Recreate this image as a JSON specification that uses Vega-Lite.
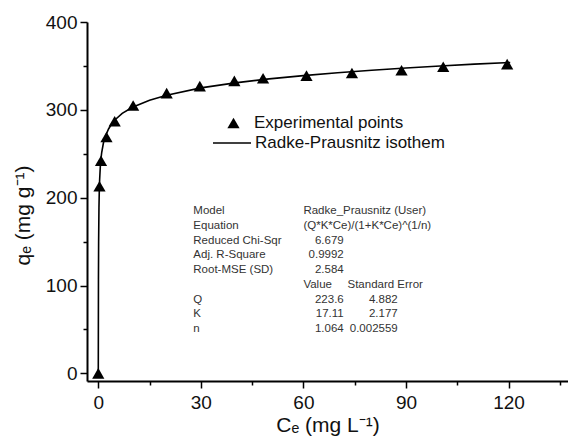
{
  "$schema": "https://vega.github.io/schema/vega-lite/v6.json",
  "width": 481,
  "height": 359,
  "autosize": {"type": "none"},
  "padding": {"left": 87, "top": 22, "right": 0, "bottom": 62},
  "background": "white",
  "config": {
    "view": {"stroke": null},
    "font": "Liberation Sans",
    "axis": {
      "grid": false,
      "domainColor": "black",
      "domainWidth": 2,
      "tickColor": "black",
      "tickWidth": 1.5,
      "labelFont": "Liberation Sans",
      "labelFontSize": 19,
      "labelColor": "#111",
      "labelOverlap": false,
      "titleFont": "Liberation Sans",
      "titleFontSize": 21,
      "titleFontWeight": "normal",
      "titleColor": "#111"
    },
    "legend": {
      "title": null,
      "orient": "none",
      "padding": 0,
      "clipHeight": 16,
      "labelFont": "Liberation Sans",
      "labelFontSize": 17,
      "labelColor": "#111",
      "labelLimit": 400
    }
  },
  "datasets": {
    "curve": [
      {"Ce": 0, "q": 0}, {"Ce": 0.05, "q": 107.0}, {"Ce": 0.1, "q": 149.8}, {"Ce": 0.2, "q": 189.2},
      {"Ce": 0.3, "q": 208.7}, {"Ce": 0.4, "q": 220.8}, {"Ce": 0.6, "q": 235.7}, {"Ce": 0.8, "q": 244.9},
      {"Ce": 1, "q": 251.4}, {"Ce": 1.5, "q": 262.2}, {"Ce": 2, "q": 269.1}, {"Ce": 3, "q": 278.2},
      {"Ce": 4, "q": 284.4}, {"Ce": 5, "q": 289.0}, {"Ce": 7, "q": 295.9}, {"Ce": 10, "q": 303.0},
      {"Ce": 15, "q": 311.0}, {"Ce": 20, "q": 316.7}, {"Ce": 30, "q": 325.0}, {"Ce": 40, "q": 330.7},
      {"Ce": 50, "q": 335.3}, {"Ce": 60, "q": 338.9}, {"Ce": 70, "q": 342.3}, {"Ce": 80, "q": 345.1},
      {"Ce": 90, "q": 347.6}, {"Ce": 100, "q": 349.9}, {"Ce": 110, "q": 352.0}, {"Ce": 120.5, "q": 353.9}
    ],
    "points": [
      {"Ce": 0, "q": 0},
      {"Ce": 0.35, "q": 213},
      {"Ce": 0.8, "q": 242},
      {"Ce": 2.4, "q": 269},
      {"Ce": 4.8, "q": 287},
      {"Ce": 10.2, "q": 305},
      {"Ce": 20, "q": 319},
      {"Ce": 29.7, "q": 327},
      {"Ce": 39.8, "q": 333},
      {"Ce": 48.2, "q": 336},
      {"Ce": 60.9, "q": 339},
      {"Ce": 74.2, "q": 342},
      {"Ce": 88.7, "q": 345},
      {"Ce": 100.9, "q": 349},
      {"Ce": 119.6, "q": 352}
    ],
    "textLeft": [
      {"x": 27.8, "y": 184.5, "t": "Model"},
      {"x": 27.8, "y": 167.8, "t": "Equation"},
      {"x": 27.8, "y": 151.0, "t": "Reduced Chi-Sqr"},
      {"x": 27.8, "y": 134.2, "t": "Adj. R-Square"},
      {"x": 27.8, "y": 117.5, "t": "Root-MSE (SD)"},
      {"x": 27.8, "y": 83.9, "t": "Q"},
      {"x": 27.8, "y": 67.1, "t": "K"},
      {"x": 27.8, "y": 50.4, "t": "n"},
      {"x": 60.0, "y": 184.5, "t": "Radke_Prausnitz (User)"},
      {"x": 60.0, "y": 167.8, "t": "(Q*K*Ce)/(1+K*Ce)^(1/n)"},
      {"x": 60.0, "y": 100.7, "t": "Value"},
      {"x": 72.9, "y": 100.7, "t": "Standard Error"}
    ],
    "textRight": [
      {"x": 71.8, "y": 151.0, "t": "6.679"},
      {"x": 71.8, "y": 134.2, "t": "0.9992"},
      {"x": 71.8, "y": 117.5, "t": "2.584"},
      {"x": 71.8, "y": 83.9, "t": "223.6"},
      {"x": 71.8, "y": 67.1, "t": "17.11"},
      {"x": 71.8, "y": 50.4, "t": "1.064"},
      {"x": 87.6, "y": 83.9, "t": "4.882"},
      {"x": 87.6, "y": 67.1, "t": "2.177"},
      {"x": 87.6, "y": 50.4, "t": "0.002559"}
    ]
  },
  "layer": [
    {
      "data": {"name": "curve"},
      "mark": {"type": "line", "strokeWidth": 1.6, "clip": true},
      "encoding": {
        "x": {
          "field": "Ce", "type": "quantitative",
          "scale": {"domain": [-3.3, 137.4], "nice": false, "zero": false},
          "axis": {
            "values": [0, 15, 30, 45, 60, 75, 90, 105, 120, 135],
            "labelExpr": "datum.value % 30 === 0 ? datum.label : ''",
            "tickSize": {"condition": {"test": "datum.value % 30 === 0", "value": 7}, "value": 4},
            "labelPadding": 5,
            "title": "Cₑ (mg L⁻¹)",
            "titlePadding": 2
          }
        },
        "y": {
          "field": "q", "type": "quantitative",
          "scale": {"domain": [-8.7, 400], "nice": false, "zero": false},
          "axis": {
            "values": [0, 50, 100, 150, 200, 250, 300, 350, 400],
            "labelExpr": "datum.value % 100 === 0 ? datum.label : ''",
            "tickSize": {"condition": {"test": "datum.value % 100 === 0", "value": 7}, "value": 4},
            "labelPadding": 3,
            "title": "qₑ (mg g⁻¹)",
            "titleAngle": -90,
            "titleX": -64,
            "titleY": 193,
            "titleAlign": "center",
            "titleBaseline": "middle"
          }
        },
        "color": {
          "datum": "Radke-Prausnitz isothem", "type": "nominal",
          "scale": {"domain": ["Radke-Prausnitz isothem"], "range": ["black"]},
          "legend": {
            "legendX": 125, "legendY": 113,
            "symbolType": "stroke", "symbolSize": 1444, "symbolStrokeWidth": 1.6,
            "labelOffset": 3
          }
        }
      }
    },
    {
      "data": {"name": "points"},
      "mark": {"type": "point", "filled": true, "opacity": 1, "size": 150, "color": "black"},
      "encoding": {
        "x": {"field": "Ce", "type": "quantitative"},
        "y": {"field": "q", "type": "quantitative"},
        "shape": {
          "datum": "Experimental points", "type": "nominal",
          "scale": {"domain": ["Experimental points"], "range": ["triangle-up"]},
          "legend": {
            "legendX": 138, "legendY": 93,
            "symbolSize": 150, "symbolFillColor": "black", "symbolStrokeColor": "black", "symbolStrokeWidth": 0,
            "symbolOpacity": 1,
            "labelOffset": 12
          }
        }
      }
    },
    {
      "mark": {"type": "rule", "color": "black", "strokeWidth": 2},
      "encoding": {"y": {"datum": 400}}
    },
    {
      "data": {"name": "textLeft"},
      "mark": {"type": "text", "align": "left", "baseline": "middle", "font": "Liberation Sans", "fontSize": 11.5, "color": "#333"},
      "encoding": {
        "x": {"field": "x", "type": "quantitative"},
        "y": {"field": "y", "type": "quantitative"},
        "text": {"field": "t"}
      }
    },
    {
      "data": {"name": "textRight"},
      "mark": {"type": "text", "align": "right", "baseline": "middle", "font": "Liberation Sans", "fontSize": 11.5, "color": "#333"},
      "encoding": {
        "x": {"field": "x", "type": "quantitative"},
        "y": {"field": "y", "type": "quantitative"},
        "text": {"field": "t"}
      }
    }
  ]
}
